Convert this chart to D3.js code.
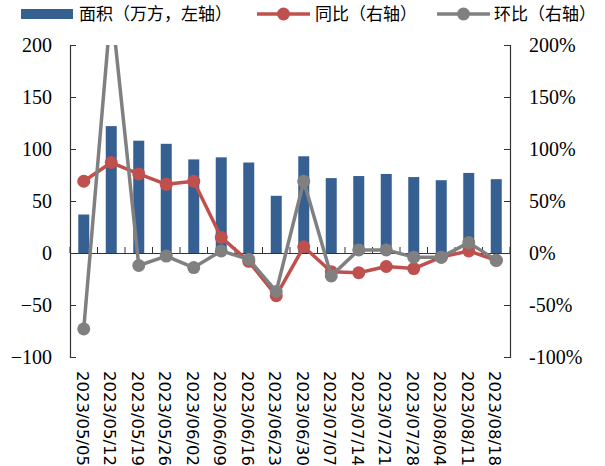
<!DOCTYPE html>
<html>
<head>
<meta charset="utf-8">
<script src="https://cdn.jsdelivr.net/npm/d3@7"></script>
<style>
  body { margin: 0; background: #fff; }
  svg { display: block; }
</style>
</head>
<body>
<div id="chart"></div>
<script>
// weekly dates, area (10k m2, left axis), yoy / wow (% , right axis)
const dates = ['2023/05/05', '2023/05/12', '2023/05/19', '2023/05/26', '2023/06/02', '2023/06/09',
  '2023/06/16', '2023/06/23', '2023/06/30', '2023/07/07', '2023/07/14', '2023/07/21',
  '2023/07/28', '2023/08/04', '2023/08/11', '2023/08/18'];
const area = [37, 122, 108, 105, 90, 92, 87, 55, 93, 72, 74, 76, 73, 70, 77, 71];
const yoy = [69, 87, 76, 66, 69, 15, -8, -41, 6, -18, -19, -13, -15, -4, 2, -7];
const wow = [-73, 239, -12, -3, -14, 2, -6, -37, 69, -22, 3, 3, -4, -4, 10, -7];
const leftTicks = [-100, -50, 0, 50, 100, 150, 200];
const rightTicks = [-100, -50, 0, 50, 100, 150, 200];

const width = 605, height = 466;
const margin = { top: 45, right: 95, bottom: 109, left: 70 };
const innerW = width - margin.left - margin.right;
const innerH = height - margin.top - margin.bottom;

const axisColor = '#333';
const blue = '#376092', red = '#C0504D', gray = '#808080';
const numFont = '"Liberation Serif", "Times New Roman", serif';

const svg = d3.select('#chart').append('svg').attr('width', width).attr('height', height);
const chart = svg.append('g').attr('transform', `translate(${margin.left},${margin.top})`);

const x = d3.scaleBand().domain(dates).range([0, innerW]).padding(0);
const yL = d3.scaleLinear().domain([-100, 200]).range([innerH, 0]);
const yR = d3.scaleLinear().domain([-100, 200]).range([innerH, 0]);
const cx = d => x(d) + x.bandwidth() / 2;

svg.append('defs').append('clipPath').attr('id', 'plot-clip')
  .append('rect').attr('x', -10).attr('y', 0).attr('width', innerW + 20).attr('height', innerH + 10);

// bars
const barW = x.bandwidth() * 0.4;
chart.selectAll('.bar').data(dates).enter().append('rect').attr('class', 'bar')
  .attr('x', d => cx(d) - barW / 2)
  .attr('y', (d, i) => yL(Math.max(0, area[i])))
  .attr('width', barW)
  .attr('height', (d, i) => Math.abs(yL(area[i]) - yL(0)))
  .attr('fill', blue);

// zero line with category ticks (pointing up)
const zeroAxis = d3.axisBottom(x).tickSize(0).tickFormat('');
const zg = chart.append('g').attr('transform', `translate(0,${yL(0)})`).call(zeroAxis);
zg.select('.domain').attr('stroke', axisColor).attr('stroke-width', 1.2);
zg.selectAll('.tick').remove();
const bounds = dates.map(d => x(d)).concat([innerW]);
zg.selectAll('.cat-tick').data(bounds).enter().append('line').attr('class', 'cat-tick')
  .attr('x1', d => d).attr('x2', d => d).attr('y1', 0).attr('y2', -6)
  .attr('stroke', axisColor).attr('stroke-width', 1);

// series lines
const lines = chart.append('g').attr('clip-path', 'url(#plot-clip)');
function drawSeries(values, color) {
  const line = d3.line().x((v, i) => cx(dates[i])).y(v => yR(v));
  lines.append('path').datum(values).attr('d', line)
    .attr('fill', 'none').attr('stroke', color).attr('stroke-width', 3.5).attr('stroke-linejoin', 'round');
  lines.append('g').selectAll('circle').data(values).enter().append('circle')
    .attr('cx', (v, i) => cx(dates[i])).attr('cy', v => yR(v)).attr('r', 6.5).attr('fill', color);
}
drawSeries(yoy, red);
drawSeries(wow, gray);

// left axis
const lAxis = d3.axisLeft(yL).tickValues(leftTicks).tickSize(-6).tickPadding(18).tickFormat(d3.format('d'));
const lg = chart.append('g').call(lAxis);
lg.select('.domain').attr('stroke', axisColor).attr('stroke-width', 1.2);
lg.selectAll('.tick line').attr('stroke', axisColor);
lg.selectAll('.tick text').attr('fill', '#000').style('font-family', numFont).style('font-size', '20px');

// right axis
const rAxis = d3.axisRight(yR).tickValues(rightTicks).tickSize(-6).tickPadding(19).tickFormat(d => d + '%');
const rg = chart.append('g').attr('transform', `translate(${innerW},0)`).call(rAxis);
rg.select('.domain').attr('stroke', axisColor).attr('stroke-width', 1.2);
rg.selectAll('.tick line').attr('stroke', axisColor);
rg.selectAll('.tick text').attr('fill', '#000').style('font-family', numFont).style('font-size', '20px');

// date labels, rotated to read downward
chart.append('g').selectAll('text').data(dates).enter().append('text')
  .attr('transform', d => `translate(${cx(d) - 1},${innerH + 14}) rotate(90)`)
  .attr('dy', '0.35em')
  .attr('text-anchor', 'start')
  .style('font-family', '"DejaVu Sans", sans-serif').style('font-size', '16.5px')
  .attr('fill', '#000')
  .text(d => d);

// legend
const legendFont = '"Noto Sans CJK SC", sans-serif';
const legend = svg.append('g');
legend.append('rect').attr('x', 21).attr('y', 9).attr('width', 52).attr('height', 10).attr('fill', blue);
legend.append('text').attr('x', 79).attr('y', 14).attr('dy', '0.35em')
  .style('font-family', legendFont).style('font-size', '17px').attr('fill', '#000').text('面积（万方，左轴）');
const lineItems = [
  { x0: 257, color: red, label: '同比（右轴）', tx: 315 },
  { x0: 437, color: gray, label: '环比（右轴）', tx: 494 },
];
lineItems.forEach(it => {
  legend.append('line').attr('x1', it.x0).attr('x2', it.x0 + 53).attr('y1', 14).attr('y2', 14)
    .attr('stroke', it.color).attr('stroke-width', 3.5);
  legend.append('circle').attr('cx', it.x0 + 26.5).attr('cy', 14).attr('r', 6.5).attr('fill', it.color);
  legend.append('text').attr('x', it.tx).attr('y', 14).attr('dy', '0.35em')
    .style('font-family', legendFont).style('font-size', '17px').attr('fill', '#000').text(it.label);
});
</script>
</body>
</html>
